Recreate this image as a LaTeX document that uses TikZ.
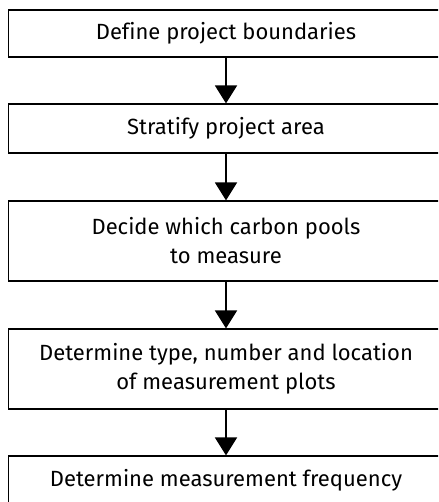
\documentclass[tikz,border=0pt]{standalone}
\usepackage{fontspec}
\setmainfont[Ligatures=NoCommon]{Fira Sans}
\usetikzlibrary{arrows.meta}
\begin{document}
\begin{tikzpicture}[x=1pt,y=-1pt,
  stepbox/.style={draw, line width=1.2pt, minimum width=435pt, align=center, inner sep=0pt, font=\fontsize{22}{29}\selectfont},
  flowarrow/.style={line width=1.8pt, -{Triangle[length=18pt,width=22pt]}}]
\useasboundingbox (0,0) rectangle (438,502);
\clip (0,0) rectangle (438,502);
\node[stepbox, minimum height=47pt] (b1) at (226,33.5) {Define project boundaries};
\node[stepbox, minimum height=49pt] (b2) at (226,128.5) {Stratify project area};
\node[stepbox, minimum height=80pt] (b3) at (226,241) {Decide which carbon pools\\to measure};
\node[stepbox, minimum height=80pt] (b4) at (226,369) {Determine type, number and location\\of measurement plots};
\node[stepbox, minimum height=48pt] (b5) at (226,480) {Determine measurement frequency};
\draw[flowarrow] (b1) -- (b2);
\draw[flowarrow] (b2) -- (b3);
\draw[flowarrow] (b3) -- (b4);
\draw[flowarrow] (b4) -- (b5);
\end{tikzpicture}
\end{document}
